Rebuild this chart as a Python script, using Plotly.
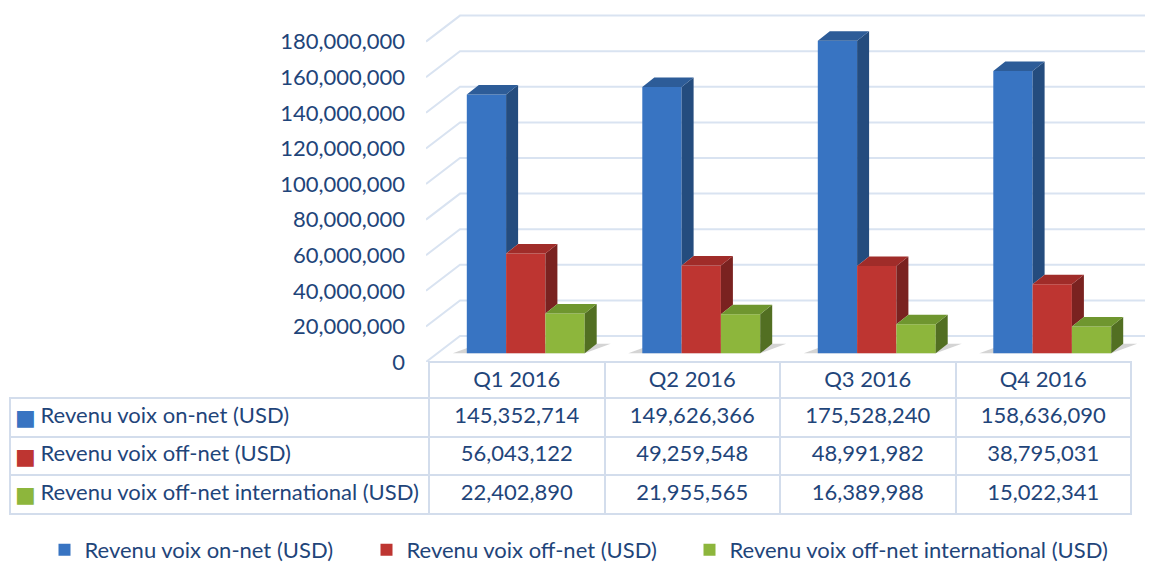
import plotly.graph_objects as go

# ---------------- data ----------------
quarters = ["Q1 2016", "Q2 2016", "Q3 2016", "Q4 2016"]
series_names = [
    "Revenu voix on-net (USD)",
    "Revenu voix off-net (USD)",
    "Revenu voix off-net international (USD)",
]
on_net = [145352714, 149626366, 175528240, 158636090]
off_net = [56043122, 49259548, 48991982, 38795031]
off_net_intl = [22402890, 21955565, 16389988, 15022341]
y_ticks = [0, 20000000, 40000000, 60000000, 80000000, 100000000,
           120000000, 140000000, 160000000, 180000000]

series_values = [on_net, off_net, off_net_intl]

# ---------------- style ----------------
front_colors = ["#3874C2", "#BE3531", "#8DB63C"]
side_colors = ["#244C7E", "#7A2220", "#526F22"]
top_colors = ["#2D5C98", "#A02C29", "#6F962F"]
text_color = "#1F457A"
grid_color = "#D9E3F1"
table_line = "#D3DDEC"
FONT = "Lato"
FS = 22
NBSP = "\u00a0"

# the page body has an 8px margin: lay the figure out in page pixels minus 8
OFF = 8
W, H = 1153 - OFF, 580


def fx(px):  # page px -> figure px (x)
    return px - OFF


def fy(px):  # page px -> figure px (y)
    return px - OFF


px_per_unit_x = 175.5
px_per_val = 1.78e-6
plot_left_px = fx(426)
col_left_px = fx(429)
plot_bottom_px = fy(362)
plot_top_px = 0


def ux(px):
    return px / px_per_unit_x


def uy(px):
    return px / px_per_val


x_min = -0.5 - ux(col_left_px - plot_left_px)
x_max = x_min + ux(W - plot_left_px)
y_max = uy(plot_bottom_px - plot_top_px)

wall_dx, wall_dy = ux(34), uy(26)
bar_w = ux(39.3)
bar_dx, bar_dy = ux(12), uy(9.5)
group_shift = ux(9)
bar_base = uy(8.7)

fig = go.Figure()

legend_ids = ["legend", "legend2", "legend3"]

# front faces (bars)
centers = []
for k, vals in enumerate(series_values):
    xs = [i + group_shift + (k - 1) * bar_w for i in range(len(quarters))]
    centers.append(xs)
    fig.add_trace(go.Bar(
        x=xs, y=vals, base=[bar_base] * len(vals), width=bar_w,
        marker=dict(color=front_colors[k], line=dict(width=0)),
        name=series_names[k], hoverinfo="skip", legend=legend_ids[k],
    ))

# side and top faces
for k, vals in enumerate(series_values):
    sx, sy, tx, ty = [], [], [], []
    for i, v in enumerate(vals):
        xc = centers[k][i]
        xl, xr = xc - bar_w / 2, xc + bar_w / 2
        top = bar_base + v
        if k < len(series_values) - 1:
            nxt = series_values[k + 1][i]
            bottom = bar_base + min(nxt, v)
        else:
            bottom = bar_base
        if top > bottom:
            sx += [xr, xr + bar_dx, xr + bar_dx, xr, xr, None]
            sy += [bottom, bottom + bar_dy, top + bar_dy, top, bottom, None]
        tx += [xl, xl + bar_dx, xr + bar_dx, xr, xl, None]
        ty += [top, top + bar_dy, top + bar_dy, top, top, None]
    fig.add_trace(go.Scatter(x=sx, y=sy, mode="lines", fill="toself",
                             fillcolor=side_colors[k], line=dict(width=0),
                             showlegend=False, hoverinfo="skip"))
    fig.add_trace(go.Scatter(x=tx, y=ty, mode="lines", fill="toself",
                             fillcolor=top_colors[k], line=dict(width=0),
                             showlegend=False, hoverinfo="skip"))

# gridlines (3D wall)
shapes = []
for v in y_ticks:
    shapes.append(dict(
        type="path", xref="x", yref="y", layer="below",
        path=f"M {x_min},{v} L {x_min + wall_dx},{v + wall_dy} L {x_max},{v + wall_dy}",
        line=dict(color=grid_color, width=2),
    ))
# floor shadows under groups
for i in range(len(quarters)):
    L = centers[0][i] - bar_w / 2
    R = centers[-1][i] + bar_w / 2
    shapes.append(dict(
        type="path", xref="x", yref="y", layer="below",
        path=(f"M {L - ux(14)},{bar_base} L {R},{bar_base} "
              f"L {R + bar_dx + ux(14)},{bar_base + bar_dy} L {L + bar_dx},{bar_base + bar_dy} Z"),
        fillcolor="rgba(60,60,60,0.22)", line=dict(width=0),
    ))

# data table (non-breaking spaces keep each series name on one line)
label_cells = [NBSP * 4 + n.replace(" ", NBSP) for n in series_names]
table_cols = [label_cells] + [[series_values[k][i] for k in range(3)]
                              for i in range(len(quarters))]
fig.add_trace(go.Table(
    domain=dict(x=[fx(10) / W, fx(1131) / W], y=[0.02, 1 - fy(362) / H]),
    columnwidth=[419, 175.5, 175.5, 175.5, 175.5],
    header=dict(
        values=[""] + quarters,
        font=dict(family=FONT, size=FS, color=text_color),
        align="center", height=36,
        fill=dict(color=["rgba(0,0,0,0)"] + ["white"] * 4),
        line=dict(color=["rgba(0,0,0,0)"] + [table_line] * 4, width=2),
    ),
    cells=dict(
        values=table_cols,
        format=[""] + [","] * 4,
        font=dict(family=FONT, size=FS, color=text_color),
        align=["left"] + ["center"] * 4, height=38.5,
        fill=dict(color="white"),
        line=dict(color=table_line, width=2),
    ),
))

# colour keys inside the table's first column
annotations = []
row_centers_px = [417, 456, 494]
for k in range(3):
    annotations.append(dict(
        text="■", xref="paper", yref="paper",
        x=fx(25) / W, y=1 - fy(row_centers_px[k]) / H,
        xanchor="center", yanchor="middle", showarrow=False,
        font=dict(family="DejaVu Sans", size=22, color=front_colors[k]),
    ))

legend_x_px = [44.5, 366.5, 689.5]
legend_common = dict(orientation="h", xanchor="left", yanchor="middle",
                     xref="container", yref="container",
                     y=1 - fy(550) / H,
                     font=dict(family=FONT, size=FS, color=text_color),
                     bgcolor="rgba(0,0,0,0)")

fig.update_layout(
    width=W, height=H,
    margin=dict(l=0, r=0, t=0, b=0, autoexpand=False),
    paper_bgcolor="white", plot_bgcolor="white",
    barmode="overlay",
    shapes=shapes,
    annotations=annotations,
    font=dict(family=FONT, size=FS, color=text_color),
    xaxis=dict(range=[x_min, x_max], visible=False, fixedrange=True,
               domain=[plot_left_px / W, 1]),
    yaxis=dict(range=[0, y_max], tickvals=y_ticks, tickformat=",",
               domain=[1 - plot_bottom_px / H, 1 - plot_top_px / H],
               showgrid=False, zeroline=False, showline=False, ticks="",
               ticklabelstandoff=20, automargin=False,
               tickfont=dict(family=FONT, size=FS, color=text_color)),
    legend=dict(x=fx(legend_x_px[0]) / W, **legend_common),
    legend2=dict(x=fx(legend_x_px[1]) / W, **legend_common),
    legend3=dict(x=fx(legend_x_px[2]) / W, **legend_common),
    showlegend=True,
)

fig.write_html("out.html")
